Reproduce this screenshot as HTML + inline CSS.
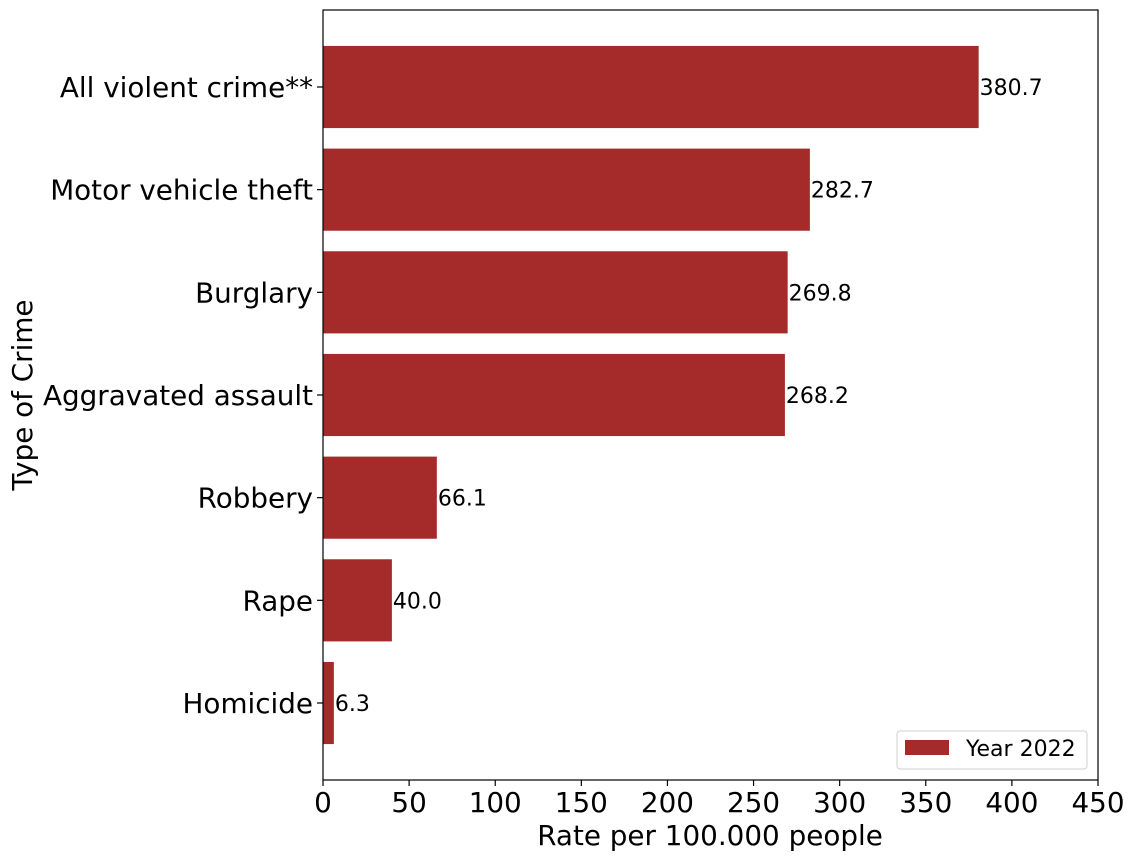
<!DOCTYPE html>
<html><head><meta charset="utf-8"><style>
body{margin:0;background:#fff;}
svg{font-family:"DejaVu Sans","Liberation Sans",sans-serif;}
</style></head><body>
<svg id="chart" width="1134" height="861">
<g id="bars"></g>
<g id="xaxis"></g>
<g id="yaxis"></g>
<rect x="323" y="10" width="775" height="770" fill="none" stroke="#000" stroke-width="1.2"/>
<text x="710" y="845" font-size="27.8" text-anchor="middle">Rate per 100.000 people</text>
<text transform="translate(32,395) rotate(-90)" font-size="27.8" text-anchor="middle">Type of Crime</text>
<g>
<rect x="897" y="731" width="190" height="38" rx="3" fill="#fff" stroke="#d0d0d0"/>
<rect x="905" y="740" width="44" height="15" fill="#a52a2a"/>
<text x="966" y="756" font-size="22">Year 2022</text>
</g>
</svg>
<script>
const categories=["All violent crime**","Motor vehicle theft","Burglary","Aggravated assault","Robbery","Rape","Homicide"];
const values=[380.7,282.7,269.8,268.2,66.1,40.0,6.3];
const xTicks=[0,50,100,150,200,250,300,350,400,450];
const NS="http://www.w3.org/2000/svg";
const L=323,R=1098,T=10,B=780;
const xs=v=>L+(v-0)/(450-0)*(R-L);
const step=(B-T)/(categories.length+0.5);
const yc=i=>T+step*0.75+i*step;
const bh=step*0.8;
function mk(tag,attrs,parent,txt){const e=document.createElementNS(NS,tag);for(const k in attrs)e.setAttribute(k,attrs[k]);if(txt!==undefined)e.textContent=txt;parent.appendChild(e);return e;}
const gb=document.getElementById('bars'),gx=document.getElementById('xaxis'),gy=document.getElementById('yaxis');
categories.forEach((c,i)=>{
 const r=mk('rect',{x:L,y:yc(i)-bh/2,width:xs(values[i])-L,height:bh,fill:'#a52a2a'},gb);
 
 
 const t=mk('text',{x:xs(values[i])+1,y:yc(i)+8,'font-size':22},gb,values[i].toFixed(1));
 
 
 const tk=mk('line',{x1:L-6,x2:L,y1:yc(i),y2:yc(i),stroke:'#000','stroke-width':1.2},gy);
 
 
 const yl=mk('text',{x:L-10,y:yc(i)+10,'font-size':27.8,'text-anchor':'end'},gy,c);
 
 
});
xTicks.forEach((v,i)=>{
 const tk=mk('line',{x1:xs(v),x2:xs(v),y1:B,y2:B+6,stroke:'#000','stroke-width':1.2},gx);
 
 
 const tl=mk('text',{x:xs(v),y:B+32,'font-size':27.8,'text-anchor':'middle'},gx,String(v));
 
 
});
</script>
</body></html>
